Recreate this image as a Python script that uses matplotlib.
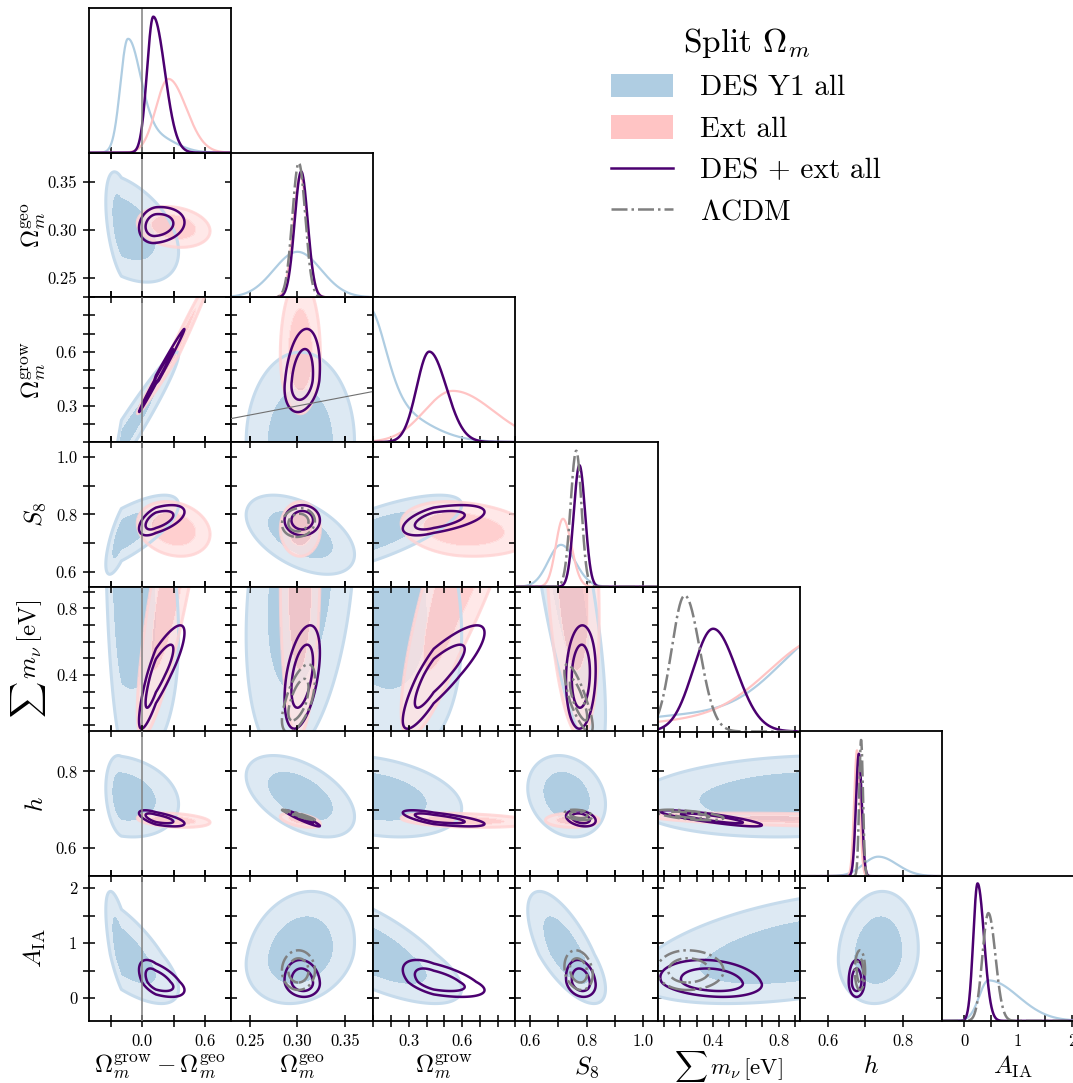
import numpy as np
import matplotlib
matplotlib.use("Agg")
import matplotlib.pyplot as plt
from matplotlib.patches import Patch
from matplotlib.lines import Line2D
from matplotlib.ticker import FixedLocator, FixedFormatter

plt.rcParams.update({
    "font.family": "serif",
    "font.serif": ["cmr10", "DejaVu Serif"],
    "mathtext.fontset": "cm",
    "axes.unicode_minus": False,
    "axes.linewidth": 1.3,
})

# ---------------------------------------------------------------- parameters
param_labels = [
    r"$\Omega_m^{\rm grow}-\Omega_m^{\rm geo}$",
    r"$\Omega_m^{\rm geo}$",
    r"$\Omega_m^{\rm grow}$",
    r"$S_8$",
    r"$\sum\, m_\nu\,[\mathrm{eV}]$",
    r"$h$",
    r"$A_{\rm IA}$",
]
param_limits = [(-0.51, 0.85), (0.23, 0.38), (0.10, 0.90), (0.55, 1.05),
                (0.06, 0.93), (0.525, 0.905), (-0.41, 2.22)]
tick_values = [
    [-0.3, 0.0, 0.3, 0.6],
    [0.25, 0.30, 0.35],
    [0.1, 0.2, 0.3, 0.4, 0.5, 0.6, 0.7, 0.8, 0.9],
    [0.6, 0.7, 0.8, 0.9, 1.0],
    [0.1, 0.2, 0.3, 0.4, 0.5, 0.6, 0.7, 0.8, 0.9],
    [0.6, 0.7, 0.8],
    [0.0, 0.5, 1.0, 1.5, 2.0],
]
tick_text = [
    ["", "0.0", "", "0.6"],
    ["0.25", "0.30", "0.35"],
    ["", "", "0.3", "", "", "0.6", "", "", ""],
    ["0.6", "", "0.8", "", "1.0"],
    ["", "", "", "0.4", "", "", "", "0.8", ""],
    ["0.6", "", "0.8"],
    ["0", "", "1", "", "2"],
]

# ------------------------------------------------- 2D posterior summaries
# per parameter: peak location, lower width, upper width (None = not sampled)
des_mean = [-0.20, 0.303, 0.10, 0.73, 0.95, 0.735, 0.80]
des_lo   = [0.06, 0.023, 0.07, 0.055, 0.42, 0.043, 0.36]
des_hi   = [0.22, 0.023, 0.20, 0.055, 0.50, 0.043, 0.46]

ext_mean = [0.30, 0.303, 0.58, 0.75, 1.05, 0.672, None]
ext_lo   = [0.14, 0.0085, 0.13, 0.038, 0.41, 0.0075, None]
ext_hi   = [0.14, 0.0085, 0.17, 0.038, 0.45, 0.0075, None]

comb_mean = [0.13, 0.305, 0.44, 0.78, 0.40, 0.677, 0.30]
comb_lo   = [0.065, 0.0075, 0.07, 0.021, 0.13, 0.0085, 0.11]
comb_hi   = [0.11, 0.0075, 0.115, 0.021, 0.12, 0.0085, 0.16]

lcdm_mean = [None, 0.301, None, 0.772, 0.24, 0.686, 0.50]
lcdm_lo   = [None, 0.007, None, 0.020, 0.075, 0.0055, 0.14]
lcdm_hi   = [None, 0.007, None, 0.020, 0.090, 0.0055, 0.15]

# correlations, ordered (1,0) (2,0) (2,1) (3,0) (3,1) (3,2) (4,0)...(6,5)
des_rho = [-0.45,
           0.97, 0.0,
           0.75, -0.5, 0.75,
           -0.3, 0.3, -0.3, -0.75,
           -0.2, -0.5, -0.3, -0.2, 0.15,
           -0.7, 0.2, -0.7, -0.7, 0.45, 0.1]
ext_rho = [-0.2,
           0.99, 0.0,
           -0.2, 0.0, -0.2,
           0.85, 0.1, 0.85, -0.3,
           -0.3, -0.5, -0.3, 0.0, -0.5,
           None, None, None, None, None, None]
comb_rho = [0.15,
            0.995, 0.25,
            0.55, 0.0, 0.55,
            0.85, 0.45, 0.85, 0.1,
            -0.65, -0.95, -0.7, -0.3, -0.85,
            -0.55, -0.1, -0.55, -0.2, -0.2, 0.0]
lcdm_rho = [None,
            None, None,
            None, 0.1, None,
            None, 0.6, None, -0.8,
            None, -0.95, None, -0.3, -0.6,
            None, 0.0, None, -0.2, 0.0, 0.0]

# ------------------------------------------------- 1D marginal profiles
# components (height, peak, lower width, upper width) per parameter
des_1d = [
    [(0.77, -0.14, 0.07, 0.12), (0.12, 0.10, 0.12, 0.20)],
    [(0.315, 0.300, 0.025, 0.025)],
    [(0.72, 0.06, 0.10, 0.10), (0.25, 0.15, 0.15, 0.22)],
    [(0.29, 0.71, 0.045, 0.05)],
    [(0.11, 0.30, 0.50, 0.50), (0.675, 1.15, 0.33, 0.33)],
    [(0.135, 0.735, 0.04, 0.05)],
    [(0.28, 0.45, 0.17, 0.55)],
]
ext_1d = [
    [(0.51, 0.25, 0.12, 0.17)],
    [(0.84, 0.303, 0.0075, 0.0075)],
    [(0.354, 0.547, 0.16, 0.23)],
    [(0.47, 0.717, 0.025, 0.03)],
    [(0.06, 0.20, 0.40, 0.40), (0.65, 1.10, 0.36, 0.36)],
    [(0.87, 0.678, 0.0075, 0.0075)],
    [],
]
comb_1d = [
    [(0.94, 0.105, 0.06, 0.11)],
    [(0.87, 0.3039, 0.0069, 0.0069)],
    [(0.625, 0.415, 0.071, 0.096)],
    [(0.84, 0.775, 0.02, 0.02)],
    [(0.71, 0.40, 0.122, 0.142)],
    [(0.846, 0.683, 0.0077, 0.0077)],
    [(0.95, 0.25, 0.08, 0.12)],
]
lcdm_1d = [
    [],
    [(0.93, 0.3014, 0.0068, 0.0068)],
    [],
    [(0.94, 0.764, 0.02, 0.018)],
    [(0.94, 0.226, 0.08, 0.092)],
    [(0.943, 0.689, 0.005, 0.005)],
    [(0.745, 0.45, 0.11, 0.13)],
]

# ---------------------------------------------------------------- styling
DES_IN, DES_OUT, DES_EDGE = "#afcde2", "#dde9f3", "#c6dbec"
EXT_IN, EXT_OUT, EXT_EDGE = "#ffc4c4", "#ffe3e3", "#ffd3d3"
COMB = "#4b0070"
LCDM = "#808080"
LEVELS = [2.30, 6.18]

n = len(param_labels)
pairs = [(i, j) for i in range(1, n) for j in range(i)]

W_PX, H_PX = 1073, 1083
X0, Y0, CW, RH = 89.0, 8.0, 142.15, 144.7

fig = plt.figure(figsize=(W_PX / 100, H_PX / 100), dpi=100)


def panel(i, j):
    rect = [(X0 + j * CW) / W_PX, 1 - (Y0 + (i + 1) * RH) / H_PX, CW / W_PX, RH / H_PX]
    return fig.add_axes(rect)


def standardise(x, mu, lo, hi):
    return np.where(x < mu, (x - mu) / lo, (x - mu) / hi)


def profile(x, comps):
    y = np.zeros_like(x)
    for amp, mu, lo, hi in comps:
        y += amp * np.exp(-0.5 * standardise(x, mu, lo, hi) ** 2)
    return y


def chi2(j, i, mean, lo, hi, rho):
    xa, xb = param_limits[j]
    ya, yb = param_limits[i]
    px, py = 0.1 * (xb - xa), 0.1 * (yb - ya)
    X, Y = np.meshgrid(np.linspace(xa - px, xb + px, 520),
                       np.linspace(ya - py, yb + py, 520))
    u = standardise(X, mean[j], lo[j], hi[j])
    v = standardise(Y, mean[i], lo[i], hi[i])
    return X, Y, (u * u - 2 * rho * u * v + v * v) / (1 - rho * rho)


def style_ticks(ax, i, j, diag):
    ax.xaxis.set_major_locator(FixedLocator(tick_values[j]))
    ax.xaxis.set_major_formatter(FixedFormatter(tick_text[j]))
    if diag:
        ax.set_yticks([])
        ax.tick_params(axis="x", direction="inout", length=9, width=1.1,
                       labelsize=12, pad=4.5, top=False, bottom=True)
    else:
        ax.yaxis.set_major_locator(FixedLocator(tick_values[i]))
        ax.yaxis.set_major_formatter(FixedFormatter(tick_text[i]))
        ax.tick_params(direction="inout", length=9, width=1.1, labelsize=12,
                       top=True, right=True, bottom=True, left=True)
        ax.tick_params(axis="x", pad=4.5)
        ax.tick_params(axis="y", pad=4)
    if i != n - 1:
        ax.tick_params(labelbottom=False)
    else:
        big_sum = j == 4
        ax.set_xlabel(param_labels[j], fontsize=16.5 if big_sum else 18, va="center")
        ax.xaxis.set_label_coords(0.5, -0.313 if big_sum else -0.32)
    if j != 0 or diag:
        ax.tick_params(labelleft=False)
    else:
        ax.set_ylabel(param_labels[i], fontsize=18)
        ax.yaxis.set_label_coords(-0.29, 0.5)


# ------------------------------------------------------------ 2D panels
for k, (i, j) in enumerate(pairs):
    ax = panel(i, j)
    ax.set_xlim(param_limits[j])
    ax.set_ylim(param_limits[i])

    for mean, lo, hi, rho, fin, fout, edge, alpha in (
            (des_mean, des_lo, des_hi, des_rho, DES_IN, DES_OUT, DES_EDGE, 1.0),
            (ext_mean, ext_lo, ext_hi, ext_rho, EXT_IN, EXT_OUT, EXT_EDGE, 0.8)):
        if rho[k] is None:
            continue
        X, Y, Q = chi2(j, i, mean, lo, hi, rho[k])
        ax.contourf(X, Y, Q, levels=[-1, LEVELS[0], LEVELS[1]],
                    colors=[fin, fout], alpha=alpha)
        ax.contour(X, Y, Q, levels=[LEVELS[1]], colors=[edge], linewidths=2.2,
                   alpha=alpha)

    if comb_rho[k] is not None:
        X, Y, Q = chi2(j, i, comb_mean, comb_lo, comb_hi, comb_rho[k])
        ax.contour(X, Y, Q, levels=LEVELS, colors=[COMB], linewidths=1.8)
    if lcdm_rho[k] is not None:
        X, Y, Q = chi2(j, i, lcdm_mean, lcdm_lo, lcdm_hi, lcdm_rho[k])
        ax.contour(X, Y, Q, levels=LEVELS, colors=[LCDM], linewidths=1.8,
                   linestyles="dashdot")

    if j == 0:
        ax.axvline(0.0, color="#808080", lw=1.1, zorder=5)
    if (i, j) == (2, 1):
        ax.plot(param_limits[1], param_limits[1], color="#707070", lw=0.8, zorder=5)
    style_ticks(ax, i, j, diag=False)

# ------------------------------------------------------------ 1D panels
for i in range(n):
    ax = panel(i, i)
    lo_, hi_ = param_limits[i]
    x = np.linspace(lo_, hi_, 600)
    if des_1d[i]:
        ax.plot(x, profile(x, des_1d[i]), color=DES_IN, lw=1.6)
    if ext_1d[i]:
        ax.plot(x, profile(x, ext_1d[i]), color=EXT_IN, lw=1.6)
    if comb_1d[i]:
        ax.plot(x, profile(x, comb_1d[i]), color=COMB, lw=1.8)
    if lcdm_1d[i]:
        ax.plot(x, profile(x, lcdm_1d[i]), color=LCDM, lw=1.8, ls="-.")
    if i == 0:
        ax.axvline(0.0, color="#808080", lw=1.1)
    ax.set_xlim(param_limits[i])
    ax.set_ylim(0, 1.0)
    style_ticks(ax, i, i, diag=True)

# ---------------------------------------------------------------- legend
handles = [Patch(facecolor=DES_IN, edgecolor="none"),
           Patch(facecolor=EXT_IN, edgecolor="none"),
           Line2D([], [], color=COMB, lw=1.8),
           Line2D([], [], color=LCDM, lw=1.8, ls="-.")]
names = ["DES Y1 all", "Ext all", "DES + ext all", r"$\Lambda$CDM"]
fig.legend(handles, names, loc="upper left", bbox_to_anchor=(585 / W_PX, 1 - 0 / H_PX),
           frameon=False, fontsize=21, title=r"Split $\Omega_m$", title_fontsize=24,
           handlelength=2.1, handleheight=0.85, handletextpad=0.95, labelspacing=0.47)

fig.savefig("out.png", dpi=100)
